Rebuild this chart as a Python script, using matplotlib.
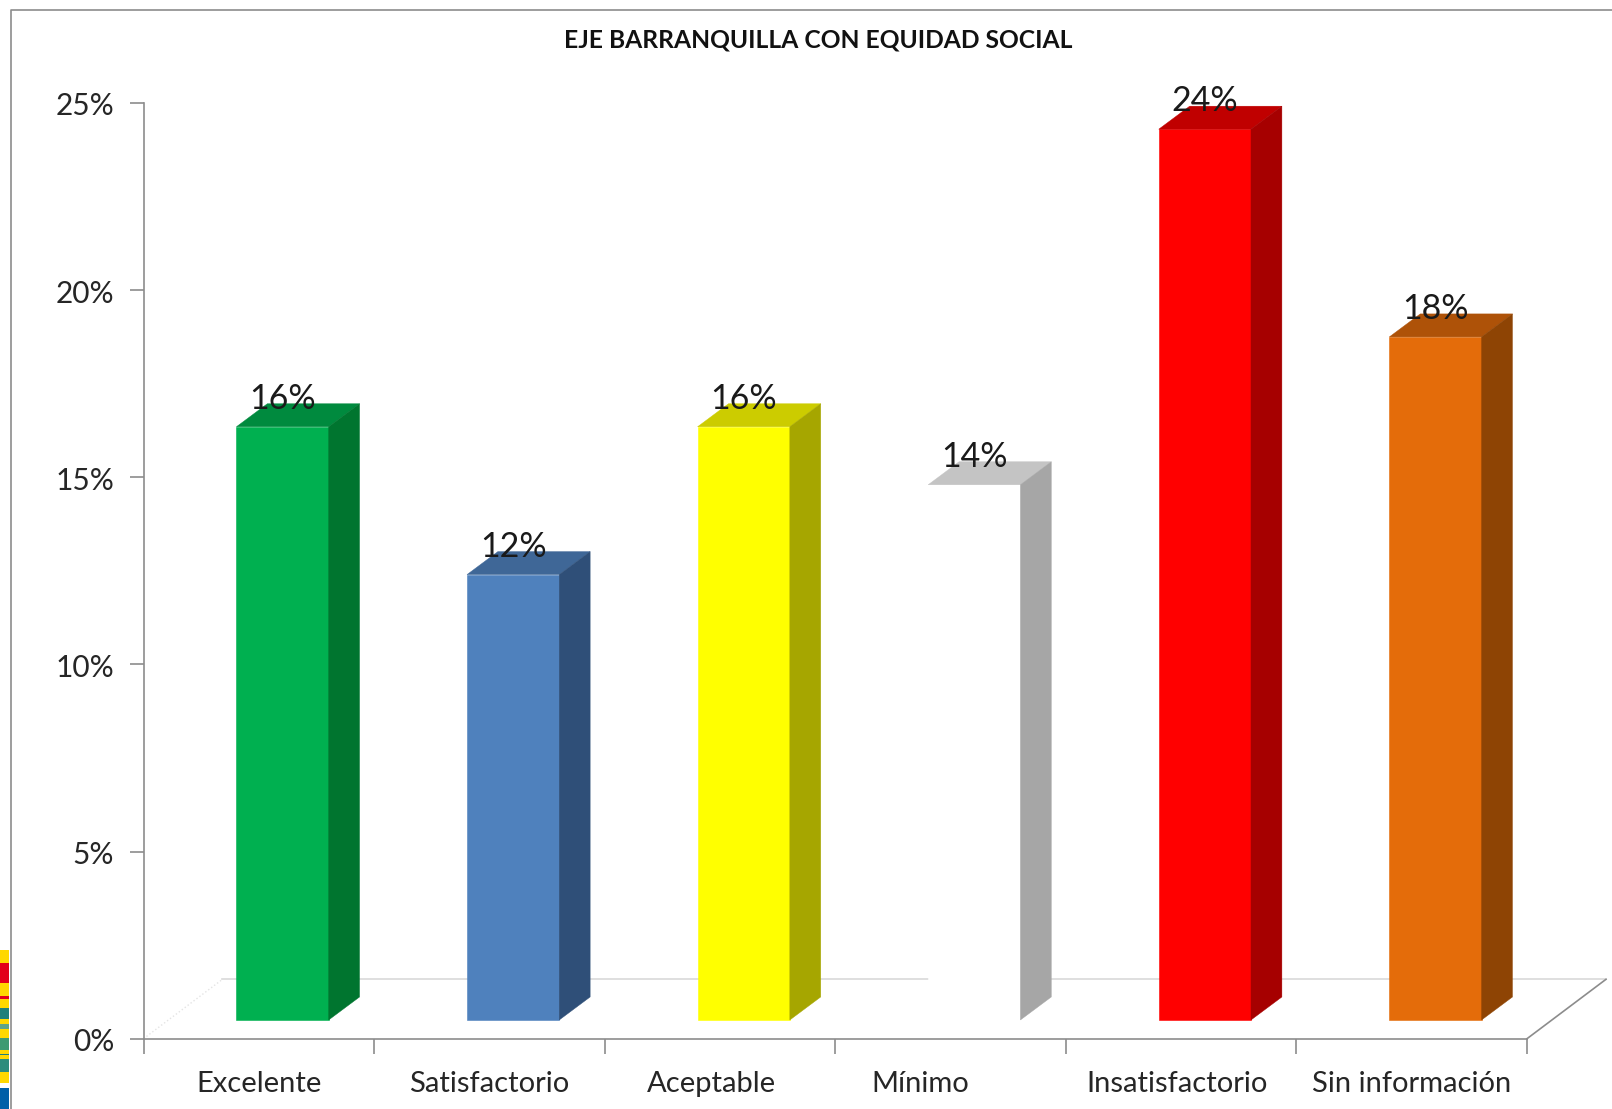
import matplotlib
matplotlib.use("Agg")
import matplotlib.pyplot as plt
from matplotlib.patches import Polygon, Rectangle
from matplotlib.lines import Line2D
from matplotlib.transforms import ScaledTranslation

plt.rcParams['font.family'] = ['Lato', 'DejaVu Sans']

categorias = ["Excelente", "Satisfactorio", "Aceptable", "Mínimo", "Insatisfactorio", "Sin información"]
valores = [15.85, 11.9, 15.85, 14.3, 23.8, 18.25]
etiquetas = ["16%", "12%", "16%", "14%", "24%", "18%"]
ticks_y = [0, 5, 10, 15, 20, 25]
frente = ["#00B050", "#4F81BD", "#FFFF00", "#FFFFFF", "#FF0000", "#E46C0A"]
techo = ["#008A3E", "#3F6797", "#CCCC00", "#C4C4C4", "#C00000", "#AE5208"]
lado = ["#00752F", "#2F4F78", "#A6A600", "#A6A6A6", "#A60000", "#8E4404"]
# corrimiento de cada rotulo del eje x, en pixeles
corrimiento = [0, 0, -8, -30, -4, 0]

W, H = 1612, 1109
fig = plt.figure(figsize=(W / 100, H / 100), dpi=100)
ax = fig.add_axes([143.5 / W, 1 - 1038.7 / H, (1527 - 143.5) / W, (1038.7 - 103) / H])
ax.set_xlim(0, 6)
ax.set_ylim(0, 25)

# perspectiva de las barras, en unidades de datos
base = 0.5
ancho = 0.4
margen = 0.403
dx = 0.134
dy = 0.615
piso_x = 0.3426
piso_y = 1.587

# piso
ax.plot([piso_x, 6 + piso_x], [piso_y, piso_y], color="#D9D9D9", lw=1.2, clip_on=False, zorder=1)
ax.plot([0, piso_x], [0, piso_y], color="#E4E4E4", lw=1, ls=":", clip_on=False, zorder=1)
ax.plot([6, 6 + piso_x], [0, piso_y], color="#8C8C8C", lw=1.2, clip_on=False, zorder=1)

for i, v in enumerate(valores):
    x0 = i + margen
    x1 = x0 + ancho
    y1 = base + v
    ax.bar(x0, v, ancho, bottom=base, align="edge", color=frente[i], edgecolor=frente[i], lw=0.4, zorder=3)
    ax.add_patch(Polygon([(x0, y1), (x1, y1), (x1 + dx, y1 + dy), (x0 + dx, y1 + dy)],
                         facecolor=techo[i], edgecolor=techo[i], lw=0.3, clip_on=False, zorder=3))
    ax.add_patch(Polygon([(x1, base), (x1 + dx, base + dy), (x1 + dx, y1 + dy), (x1, y1)],
                         facecolor=lado[i], edgecolor=lado[i], lw=0.3, clip_on=False, zorder=3))
    ax.text(x0 + ancho / 2, y1 + dy + 0.13, etiquetas[i], ha="center", va="center",
            fontsize=24.5, color="#1A1A1A", zorder=4, clip_on=False)

for s in ["top", "right"]:
    ax.spines[s].set_visible(False)
for s in ["left", "bottom"]:
    ax.spines[s].set_color("#8C8C8C")
    ax.spines[s].set_linewidth(1.2)

ax.set_yticks(ticks_y)
ax.set_yticklabels([f"{t}%" for t in ticks_y])
ax.set_xticks(range(7))
ax.set_xticklabels([])
ax.tick_params(axis="y", length=10, width=1.2, color="#8C8C8C", labelsize=21.5, labelcolor="#262626", pad=11)
ax.tick_params(axis="x", length=11, width=1.2, color="#8C8C8C")
for lab in ax.get_yticklabels():
    lab.set_transform(lab.get_transform() + ScaledTranslation(0, -1 / 100, fig.dpi_scale_trans))

for i, c in enumerate(categorias):
    ax.annotate(c, (i + 0.5, 0), xytext=(corrimiento[i], -45), textcoords="offset pixels", ha="center", va="center",
                fontsize=21, color="#262626", xycoords="data", annotation_clip=False)

fig.text(818 / W, 1 - 40 / H, "EJE BARRANQUILLA CON EQUIDAD SOCIAL", ha="center", va="center",
         fontsize=17.75, fontweight="bold", color="#111111")

# marco del grafico
fig.add_artist(Line2D([10.5 / W, 10.5 / W, 1], [0, 1 - 10 / H, 1 - 10 / H],
                      transform=fig.transFigure, color="#8C8C8C", lw=1.2))

# recorte del logo en la orilla izquierda
logo = [(950, 1083, "#FFD800"), (963, 983, "#E2001A"), (996, 999, "#E2001A"), (1008, 1019, "#1F7F7A"),
        (1024, 1029, "#5FA38A"), (1038, 1050, "#3E9A72"), (1054, 1055, "#1F7F7A"), (1059, 1072, "#2C8C7C"),
        (1088, 1109, "#005FA8")]
for y0, y1, col in logo:
    fig.add_artist(Rectangle((0, 1 - y1 / H), 9 / W, (y1 - y0) / H, transform=fig.transFigure, facecolor=col, lw=0))

fig.savefig("out.png", dpi=100, facecolor="white")
